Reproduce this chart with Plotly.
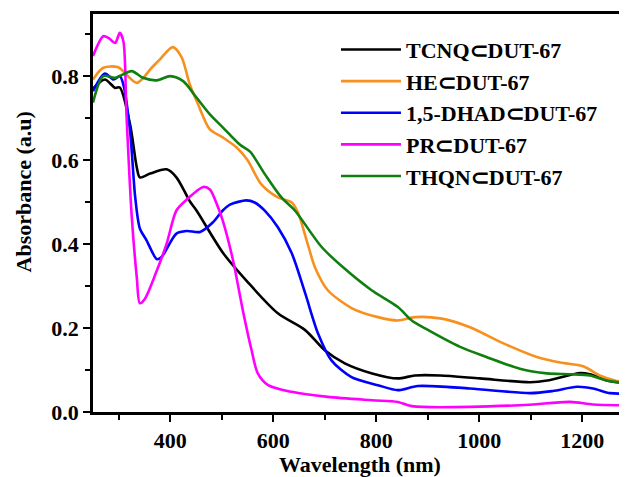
import plotly.graph_objects as go

# ---- data ----
tcnq_x = [250, 273, 293, 302, 322, 335, 341, 361, 393, 412, 438, 451, 503, 550, 609, 662, 700, 739, 792, 842, 875, 924, 1001, 1099, 1132, 1196, 1215, 1248, 1287]
tcnq_y = [0.770, 0.792, 0.772, 0.773, 0.685, 0.583, 0.559, 0.568, 0.578, 0.559, 0.502, 0.480, 0.378, 0.310, 0.235, 0.195, 0.147, 0.116, 0.092, 0.080, 0.087, 0.087, 0.080, 0.071, 0.075, 0.093, 0.090, 0.075, 0.068]

he_x = [250, 270, 299, 335, 364, 380, 405, 422, 438, 454, 477, 502, 529, 550, 577, 609, 636, 648, 667, 681, 706, 753, 803, 842, 875, 924, 982, 1046, 1112, 1157, 1202, 1234, 1267, 1287]
he_y = [0.792, 0.820, 0.821, 0.784, 0.820, 0.840, 0.869, 0.845, 0.780, 0.733, 0.673, 0.654, 0.630, 0.600, 0.542, 0.511, 0.499, 0.475, 0.400, 0.345, 0.290, 0.247, 0.226, 0.218, 0.226, 0.223, 0.202, 0.164, 0.131, 0.118, 0.109, 0.087, 0.074, 0.071]

dhad_x = [250, 273, 290, 302, 309, 322, 332, 341, 354, 374, 383, 412, 432, 458, 483, 502, 516, 548, 564, 584, 609, 636, 662, 687, 713, 752, 803, 842, 881, 982, 1099, 1143, 1190, 1221, 1254, 1287]
dhad_y = [0.764, 0.806, 0.792, 0.800, 0.780, 0.669, 0.511, 0.437, 0.409, 0.364, 0.369, 0.425, 0.431, 0.429, 0.452, 0.480, 0.494, 0.504, 0.499, 0.479, 0.440, 0.378, 0.283, 0.187, 0.123, 0.083, 0.064, 0.052, 0.062, 0.056, 0.045, 0.050, 0.060, 0.056, 0.045, 0.044]

pr_x = [250, 270, 280, 293, 302, 309, 315, 325, 335, 341, 351, 374, 393, 412, 432, 464, 477, 493, 502, 522, 541, 558, 570, 590, 636, 706, 792, 842, 869, 1079, 1176, 1221, 1287]
pr_y = [0.848, 0.895, 0.891, 0.879, 0.903, 0.883, 0.709, 0.470, 0.321, 0.259, 0.270, 0.337, 0.401, 0.480, 0.506, 0.536, 0.530, 0.487, 0.456, 0.361, 0.242, 0.147, 0.092, 0.064, 0.048, 0.036, 0.028, 0.024, 0.014, 0.016, 0.024, 0.018, 0.016]

thqn_x = [250, 270, 293, 325, 347, 374, 400, 425, 451, 477, 502, 535, 555, 584, 616, 642, 694, 739, 791, 842, 869, 895, 963, 1014, 1079, 1131, 1176, 1215, 1248, 1287]
thqn_y = [0.737, 0.800, 0.796, 0.812, 0.796, 0.790, 0.800, 0.788, 0.749, 0.709, 0.678, 0.637, 0.620, 0.566, 0.511, 0.480, 0.393, 0.341, 0.290, 0.250, 0.218, 0.199, 0.155, 0.131, 0.103, 0.092, 0.090, 0.087, 0.075, 0.068]

names = ["TCNQ⊂DUT-67", "HE⊂DUT-67", "1,5-DHAD⊂DUT-67", "PR⊂DUT-67", "THQN⊂DUT-67"]
colors = ["#000000", "#F7901E", "#0000FF", "#FF00FF", "#0F7F0F"]
xs = [tcnq_x, he_x, dhad_x, pr_x, thqn_x]
ys = [tcnq_y, he_y, dhad_y, pr_y, thqn_y]

FONT = "Liberation Serif"
FS = 22

fig = go.Figure()
for n, c, x, y in zip(names, colors, xs, ys):
    fig.add_trace(go.Scatter(
        x=x, y=y, name=n, mode="lines",
        line=dict(color=c, width=2.6, shape="spline", smoothing=0.8),
    ))

# axis titles placed as annotations to match the reference positions
fig.add_annotation(
    text="Absorbance (a.u)", textangle=-90,
    xref="paper", yref="paper", x=-0.13, y=0.553,
    xanchor="center", yanchor="middle", showarrow=False,
    font=dict(family=FONT, size=FS, color="black", weight="bold"),
)
fig.add_annotation(
    text="Wavelength (nm)",
    xref="paper", yref="paper", x=0.5, y=-0.133,
    xanchor="center", yanchor="middle", showarrow=False,
    font=dict(family=FONT, size=FS, color="black", weight="bold"),
)

fig.update_layout(
    width=619, height=469,
    margin=dict(l=85, r=0, t=6, b=65, autoexpand=False),
    paper_bgcolor="white", plot_bgcolor="white",
    font=dict(family=FONT, size=FS, color="black", weight="bold"),
    showlegend=True,
    legend=dict(
        x=0.455, y=0.963, xanchor="left", yanchor="top",
        bgcolor="rgba(0,0,0,0)",
        font=dict(family=FONT, size=22, color="black", weight="bold"),
        itemwidth=60,
    ),
    xaxis=dict(
        range=[250, 1287],
        tick0=0, dtick=200,
        ticks="outside", ticklen=7, tickwidth=2, tickcolor="black",
        minor=dict(dtick=100, tick0=0, ticks="outside", ticklen=5, tickwidth=2, tickcolor="black"),
        showline=True, linewidth=2.5, linecolor="black", mirror=True,
        showgrid=False, zeroline=False,
        tickfont=dict(family=FONT, size=FS, weight="bold"),
    ),
    yaxis=dict(
        range=[0, 0.948],
        tick0=0, dtick=0.2, tickformat=".1f",
        ticks="outside", ticklen=7, tickwidth=2, tickcolor="black",
        minor=dict(dtick=0.1, tick0=0, ticks="outside", ticklen=5, tickwidth=2, tickcolor="black"),
        showline=True, linewidth=2.5, linecolor="black", mirror=False,
        showgrid=False, zeroline=False,
        tickfont=dict(family=FONT, size=FS, weight="bold"),
    ),
)

fig.write_html("out.html")
